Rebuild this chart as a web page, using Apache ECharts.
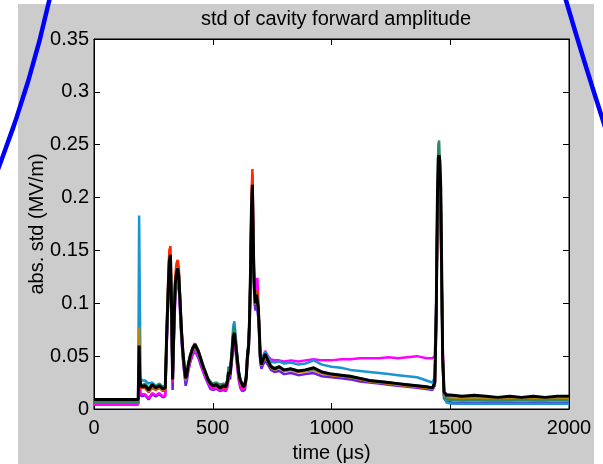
<!DOCTYPE html>
<html>
<head>
<meta charset="utf-8">
<script src="https://cdn.jsdelivr.net/npm/echarts@6/dist/echarts.min.js"></script>
<style>
html,body{margin:0;padding:0;background:#fff;}
#wrap{position:relative;width:603px;height:464px;overflow:hidden;background:#fff;}
#panel{position:absolute;left:18px;top:4px;width:576px;height:460px;background:#cccccc;}
#chart{position:absolute;left:0;top:0;width:603px;height:464px;}
</style>
</head>
<body>
<div id="wrap"><div id="panel"></div><div id="chart"></div></div>
<script>
const titleText = 'std of cavity forward amplitude';
const xName = 'time (\u03bcs)';
const yName = 'abs. std (MV/m)';
const xTicks = [0, 500, 1000, 1500, 2000];
const yTicks = ['0', '0.05', '0.1', '0.15', '0.2', '0.25', '0.3', '0.35'];

const time = [
0,40,80,120,160,186,190,193,196,200,
215,230,245,260,275,290,300,306,312,317,
322,327,331,336,342,347,352,357,362,368,
374,380,386,391,397,405,415,425,432,440,
450,460,470,480,490,500,515,530,545,555,
562,567,573,580,586,591,597,603,609,616,
623,629,635,641,646,651,655,659,663,667,
670,673,676,680,684,688,692,696,700,705,
712,721,732,745,760,780,800,830,860,890,
925,960,1000,1040,1080,1120,1160,1200,1240,1280,
1320,1360,1400,1425,1435,1441,1446,1450,1453,1456,
1460,1464,1468,1474,1485,1510,1550,1600,1650,1700,
1750,1800,1850,1900,1950,2000];

const purple = [
0.005,0.005,0.005,0.005,0.005,0.005,0.045,0.02,0.014,0.012,
0.013,0.009,0.014,0.012,0.014,0.011,0.012,0.06,0.1,0.128,
0.135,0.078,0.018,0.062,0.105,0.115,0.12,0.115,0.094,0.066,
0.048,0.034,0.022,0.027,0.036,0.044,0.051,0.055,0.054,0.048,
0.041,0.035,0.029,0.024,0.019,0.018,0.019,0.017,0.018,0.017,
0.021,0.03,0.028,0.044,0.06,0.064,0.053,0.04,0.028,0.02,
0.017,0.016,0.018,0.027,0.045,0.055,0.078,0.12,0.175,0.19,
0.155,0.12,0.1,0.093,0.1,0.1,0.086,0.065,0.044,0.038,
0.042,0.046,0.042,0.037,0.035,0.036,0.033,0.034,0.032,0.033,
0.034,0.031,0.03,0.029,0.028,0.026,0.025,0.024,0.023,0.022,
0.021,0.02,0.019,0.018,0.022,0.08,0.18,0.215,0.22,0.21,
0.18,0.11,0.045,0.01,0.007,0.006,0.006,0.006,0.006,0.006,
0.006,0.006,0.006,0.006,0.006,0.006];

const magenta = [
0.004,0.004,0.004,0.004,0.004,0.004,0.04,0.02,0.014,0.013,
0.014,0.01,0.015,0.013,0.015,0.012,0.013,0.06,0.1,0.13,
0.138,0.08,0.025,0.065,0.108,0.118,0.125,0.12,0.098,0.07,
0.05,0.036,0.026,0.03,0.037,0.045,0.052,0.056,0.055,0.05,
0.043,0.036,0.03,0.025,0.021,0.019,0.02,0.018,0.019,0.018,
0.022,0.03,0.03,0.045,0.062,0.066,0.055,0.042,0.03,0.022,
0.018,0.018,0.02,0.03,0.048,0.058,0.08,0.13,0.19,0.222,
0.18,0.14,0.115,0.105,0.118,0.124,0.1,0.075,0.052,0.048,
0.05,0.055,0.05,0.047,0.046,0.046,0.045,0.046,0.045,0.046,
0.047,0.046,0.046,0.047,0.047,0.048,0.048,0.048,0.049,0.048,
0.049,0.05,0.048,0.048,0.05,0.1,0.18,0.21,0.215,0.2,
0.17,0.12,0.06,0.016,0.014,0.013,0.011,0.01,0.01,0.009,
0.009,0.009,0.009,0.009,0.009,0.009];

const blue = [
0.006,0.006,0.006,0.006,0.006,0.006,0.183,0.1,0.03,0.027,
0.027,0.024,0.025,0.022,0.024,0.021,0.022,0.065,0.105,0.135,
0.14,0.085,0.03,0.07,0.112,0.123,0.128,0.122,0.1,0.072,
0.052,0.038,0.027,0.031,0.04,0.048,0.055,0.059,0.058,0.052,
0.045,0.039,0.033,0.027,0.024,0.023,0.024,0.022,0.023,0.022,
0.028,0.04,0.036,0.055,0.078,0.083,0.068,0.05,0.036,0.028,
0.024,0.022,0.024,0.033,0.052,0.062,0.085,0.125,0.18,0.2,
0.165,0.125,0.108,0.1,0.107,0.106,0.094,0.072,0.05,0.045,
0.05,0.054,0.049,0.045,0.044,0.045,0.043,0.044,0.042,0.043,
0.046,0.042,0.04,0.039,0.037,0.036,0.035,0.034,0.033,0.032,
0.031,0.03,0.027,0.025,0.03,0.1,0.19,0.225,0.23,0.22,
0.19,0.12,0.045,0.012,0.006,0.005,0.005,0.005,0.005,0.005,
0.005,0.005,0.005,0.005,0.005,0.005];

const red = [
0.006,0.006,0.006,0.006,0.006,0.006,0.05,0.025,0.02,0.019,
0.02,0.016,0.02,0.018,0.02,0.017,0.018,0.075,0.12,0.15,
0.154,0.095,0.027,0.08,0.125,0.137,0.141,0.134,0.108,0.077,
0.055,0.04,0.028,0.032,0.042,0.05,0.058,0.062,0.061,0.055,
0.047,0.04,0.034,0.028,0.024,0.021,0.022,0.019,0.021,0.02,
0.025,0.034,0.032,0.05,0.07,0.075,0.062,0.048,0.034,0.026,
0.022,0.02,0.022,0.03,0.05,0.062,0.085,0.135,0.2,0.227,
0.18,0.135,0.112,0.102,0.11,0.112,0.096,0.074,0.05,0.043,
0.046,0.05,0.045,0.04,0.038,0.039,0.036,0.037,0.035,0.036,
0.037,0.034,0.032,0.031,0.03,0.028,0.027,0.025,0.024,0.023,
0.022,0.021,0.02,0.019,0.024,0.09,0.19,0.23,0.235,0.225,
0.2,0.12,0.05,0.012,0.01,0.01,0.009,0.01,0.009,0.009,
0.009,0.009,0.009,0.009,0.009,0.009];

const orange = [
0.007,0.007,0.007,0.007,0.007,0.007,0.077,0.035,0.023,0.021,
0.021,0.017,0.021,0.019,0.021,0.018,0.019,0.068,0.11,0.138,
0.142,0.088,0.028,0.072,0.115,0.125,0.13,0.124,0.102,0.074,
0.053,0.039,0.028,0.032,0.041,0.049,0.056,0.06,0.059,0.053,
0.046,0.04,0.033,0.028,0.024,0.022,0.023,0.02,0.022,0.021,
0.026,0.036,0.034,0.05,0.068,0.072,0.06,0.047,0.034,0.026,
0.022,0.021,0.023,0.031,0.05,0.06,0.084,0.128,0.19,0.205,
0.168,0.127,0.108,0.099,0.106,0.107,0.093,0.072,0.049,0.041,
0.045,0.05,0.045,0.039,0.037,0.039,0.036,0.037,0.035,0.036,
0.037,0.034,0.032,0.031,0.03,0.028,0.026,0.025,0.024,0.023,
0.022,0.021,0.02,0.019,0.024,0.085,0.19,0.228,0.232,0.22,
0.195,0.12,0.05,0.013,0.011,0.01,0.0095,0.01,0.0095,0.0095,
0.0095,0.0095,0.01,0.0095,0.0095,0.01];

const green = [
0.0065,0.0065,0.0065,0.0065,0.0065,0.0065,0.055,0.03,0.024,0.022,
0.024,0.02,0.023,0.021,0.023,0.02,0.021,0.07,0.112,0.14,
0.145,0.09,0.03,0.075,0.118,0.128,0.133,0.128,0.106,0.078,
0.057,0.042,0.03,0.034,0.043,0.051,0.058,0.062,0.061,0.055,
0.048,0.041,0.035,0.029,0.026,0.024,0.025,0.023,0.024,0.023,
0.028,0.04,0.036,0.053,0.072,0.078,0.064,0.05,0.036,0.028,
0.024,0.022,0.024,0.032,0.052,0.062,0.086,0.128,0.185,0.2,
0.165,0.128,0.11,0.102,0.11,0.11,0.095,0.073,0.05,0.044,
0.047,0.052,0.047,0.041,0.039,0.04,0.037,0.038,0.036,0.037,
0.038,0.035,0.033,0.032,0.03,0.029,0.027,0.026,0.025,0.024,
0.023,0.022,0.021,0.02,0.026,0.1,0.21,0.25,0.254,0.235,
0.205,0.13,0.05,0.012,0.009,0.0085,0.008,0.0085,0.008,0.008,
0.008,0.0085,0.008,0.008,0.0085,0.008];

const black = [
0.009,0.009,0.009,0.009,0.009,0.009,0.06,0.03,0.024,0.021,
0.022,0.018,0.023,0.02,0.022,0.019,0.02,0.07,0.11,0.14,
0.146,0.09,0.028,0.075,0.118,0.128,0.133,0.126,0.104,0.075,
0.055,0.04,0.029,0.033,0.042,0.05,0.057,0.061,0.06,0.054,
0.047,0.04,0.034,0.028,0.024,0.022,0.023,0.02,0.022,0.021,
0.026,0.035,0.033,0.05,0.068,0.072,0.06,0.048,0.035,0.027,
0.024,0.021,0.023,0.03,0.05,0.06,0.085,0.13,0.19,0.212,
0.17,0.13,0.11,0.1,0.108,0.108,0.095,0.075,0.05,0.042,
0.047,0.052,0.046,0.04,0.038,0.04,0.037,0.038,0.036,0.037,
0.039,0.035,0.033,0.032,0.031,0.029,0.027,0.026,0.025,0.024,
0.023,0.022,0.021,0.02,0.025,0.09,0.2,0.238,0.24,0.235,
0.21,0.13,0.05,0.016,0.013,0.013,0.012,0.013,0.012,0.011,
0.012,0.011,0.012,0.011,0.012,0.012];

const seriesList = [
  {name: 'purple', color: '#6a1fe0', values: purple, width: 2.5},
  {name: 'magenta', color: '#ff00ff', values: magenta, width: 2.5},
  {name: 'blue', color: '#1a94d2', values: blue, width: 2.5},
  {name: 'red', color: '#ff2a00', values: red, width: 2.5},
  {name: 'orange', color: '#b8860b', values: orange, width: 2.5},
  {name: 'green', color: '#2e8b60', values: green, width: 2.5},
  {name: 'black', color: '#000000', values: black, width: 3}
];

const chart = echarts.init(document.getElementById('chart'), null, {renderer: 'canvas'});
const font = '"Liberation Sans", Arial, sans-serif';
function ticks() { return {show: true, inside: true, length: 6, lineStyle: {color: '#000', width: 1}}; }
function line() { return {show: true, onZero: false, lineStyle: {color: '#000', width: 1}}; }

chart.setOption({
  animation: false,
  backgroundColor: 'transparent',
  textStyle: {fontFamily: font},
  title: {
    text: titleText, left: 331, top: 4, textAlign: 'center',
    textStyle: {fontSize: 20, fontWeight: 'normal', color: '#000', fontFamily: font}
  },
  grid: {left: 94, right: 34, top: 39, bottom: 55, containLabel: false, outerBoundsMode: 'none',
         show: true, backgroundColor: '#fff', borderColor: '#000', borderWidth: 1},
  xAxis: [{
    type: 'value', min: 0, max: 2000, interval: 500,
    name: xName, nameLocation: 'middle', nameGap: 34, nameMoveOverlap: false,
    nameTextStyle: {fontSize: 20, color: '#000', fontFamily: font},
    axisLine: line(),
    axisTick: ticks(),
    axisLabel: {fontSize: 20, color: '#000', margin: 9, fontFamily: font, formatter: v => String(xTicks[Math.round(v/500)])},
    splitLine: {show: false}
  }, {
    type: 'value', position: 'top', min: 0, max: 2000, interval: 500,
    axisLine: line(),
    axisTick: ticks(), axisLabel: {show: false}, splitLine: {show: false}
  }],
  yAxis: [{
    type: 'value', min: 0, max: 0.35, interval: 0.05,
    name: yName, nameLocation: 'middle', nameGap: 47, nameRotate: 90, nameMoveOverlap: false,
    nameTextStyle: {fontSize: 20, color: '#000', fontFamily: font},
    axisLine: line(),
    axisTick: ticks(),
    axisLabel: {fontSize: 20, color: '#000', margin: 5, fontFamily: font, formatter: v => yTicks[Math.round(v/0.05)]},
    splitLine: {show: false}
  }, {
    type: 'value', position: 'right', min: 0, max: 0.35, interval: 0.05,
    axisLine: line(),
    axisTick: ticks(), axisLabel: {show: false}, splitLine: {show: false}
  }],
  series: seriesList.map(s => ({
    type: 'line', name: s.name, showSymbol: false, symbol: 'none',
    xAxisIndex: 0, yAxisIndex: 0,
    lineStyle: {color: s.color, width: s.width},
    itemStyle: {color: s.color},
    data: time.map((t, i) => [t, s.values[i]])
  })),
  graphic: [
    {type: 'bezierCurve', silent: true, z: 100,
     shape: {x1: 50, y1: -3, x2: -3, y2: 172, cpx1: 31, cpy1: 84},
     style: {stroke: '#0000ff', lineWidth: 4.5, fill: null}},
    {type: 'bezierCurve', silent: true, z: 100,
     shape: {x1: 565, y1: -3, x2: 607, y2: 133, cpx1: 584, cpy1: 62},
     style: {stroke: '#0000ff', lineWidth: 4.5, fill: null}}
  ]
});
</script>
</body>
</html>
